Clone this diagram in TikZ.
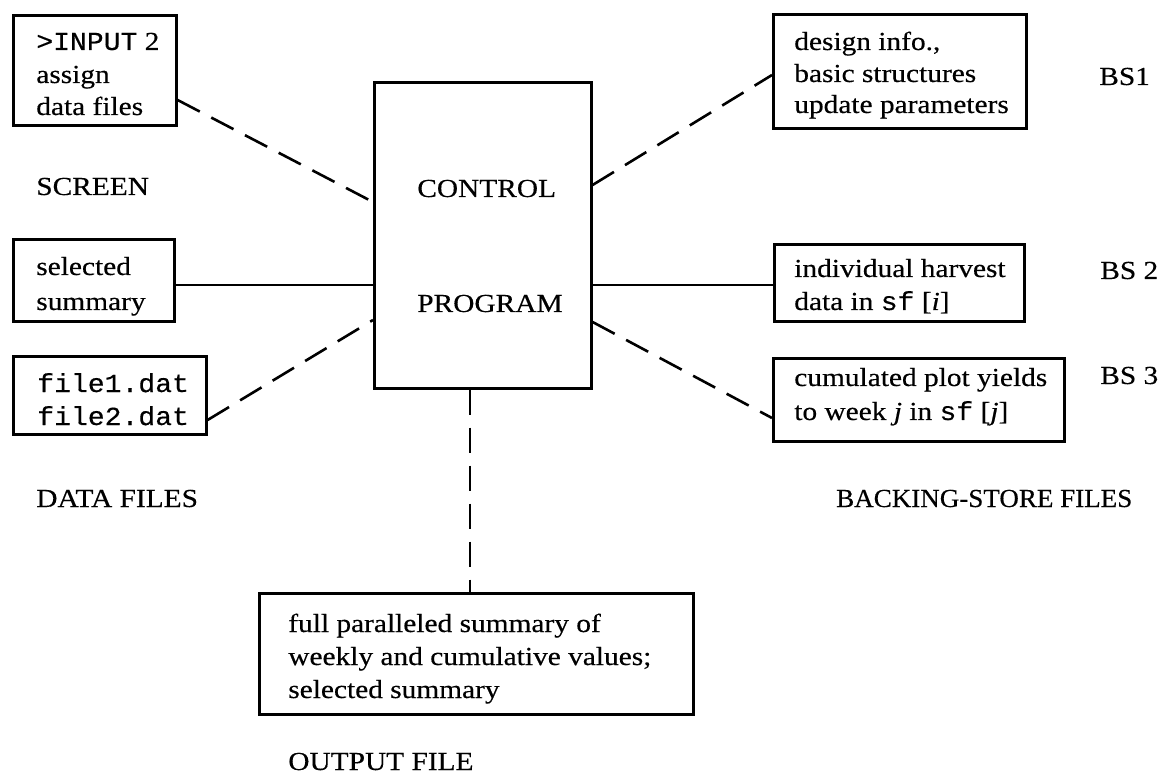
\documentclass[tikz,border=0pt]{standalone}
\usepackage{fontspec}
\setmainfont[FakeStretch=1.13,FakeBold=0.4]{Liberation Serif}
\newfontfamily\cmono[FakeStretch=1.08,FakeBold=0.4]{Liberation Mono}
\begin{document}
\begin{tikzpicture}[x=1pt,y=-1pt,
  line width=2.6pt,
  box/.style={draw, rectangle, inner sep=0pt, anchor=north west},
  lbl/.style={anchor=base west, inner sep=0pt, font=\fontsize{26}{33}\selectfont},
  dashline/.style={dash pattern=on 25pt off 13pt},
]
\useasboundingbox (0,0) rectangle (1162,783);

% control program
\node[box, minimum width=217, minimum height=306] (ctrl) at (373,81) {};
\node[lbl] (tc) at (416,197) {CONTROL};
\node[lbl] (tp) at (416,312) {PROGRAM};

% screen side
\node[box, minimum width=163, minimum height=110] (inp) at (12,14) {};
\node[lbl] (inp1) at (35,50) {{\cmono >INPUT} 2};
\node[lbl] (inp2) at (35,83) {assign};
\node[lbl] (inp3) at (35,115) {data files};
\node[lbl] (scr) at (35,195) {SCREEN};

\node[box, minimum width=161, minimum height=82] (sel) at (12,238) {};
\node[lbl] (sel1) at (35,275) {selected};
\node[lbl] (sel2) at (35,310) {summary};

% data files
\node[box, minimum width=193, minimum height=78] (dat) at (12,355) {};
\node[lbl] (dat1) at (36,392) {\cmono file1.dat};
\node[lbl] (dat2) at (36,425) {\cmono file2.dat};
\node[lbl] (datl) at (35,507) {DATA FILES};

% backing-store files
\node[box, minimum width=253, minimum height=114] (bs1) at (772,13) {};
\node[lbl] (bs1a) at (793,50) {design info.,};
\node[lbl] (bs1b) at (793,82) {basic structures};
\node[lbl] (bs1c) at (793,113) {update parameters};
\node[lbl] (bs1l) at (1098,85) {BS1};

\node[box, minimum width=250, minimum height=77] (bs2) at (773,243) {};
\node[lbl] (bs2a) at (793,277) {individual harvest};
\node[lbl] (bs2b) at (793,310) {data in {\cmono sf} [\textit{i}]};
\node[lbl] (bs2l) at (1099,279) {BS 2};

\node[box, minimum width=291, minimum height=83] (bs3) at (772,357) {};
\node[lbl] (bs3a) at (793,386) {cumulated plot yields};
\node[lbl] (bs3b) at (793,420) {to week \textit{j} in {\cmono sf} [\textit{j}]};
\node[lbl] (bs3l) at (1099,384) {BS 3};
\node[lbl, xscale=0.92] (bsl) at (835,507) {BACKING-STORE FILES};

% output file
\node[box, minimum width=434, minimum height=121] (out) at (258,592) {};
\node[lbl] (out1) at (287,632) {full paralleled summary of};
\node[lbl] (out2) at (287,665) {weekly and cumulative values;};
\node[lbl] (out3) at (287,698) {selected summary};
\node[lbl] (outl) at (287,770) {OUTPUT FILE};

% connectors
\draw[dashline] (inp.east |- 0,100) -- (ctrl.west |- 0,202);
\draw (sel.east |- 0,285) -- (ctrl.west |- 0,285);
\draw[dashline] (dat.east |- 0,420) -- (ctrl.west |- 0,320);
\draw[dashline] (ctrl.east |- 0,185) -- (bs1.west |- 0,75);
\draw (ctrl.east |- 0,285) -- (bs2.west |- 0,285);
\draw[dashline] (ctrl.east |- 0,322) -- (bs3.west |- 0,418);
\draw[dashline] (ctrl.south -| 470,0) -- (out.north -| 470,0);
\end{tikzpicture}
\end{document}
